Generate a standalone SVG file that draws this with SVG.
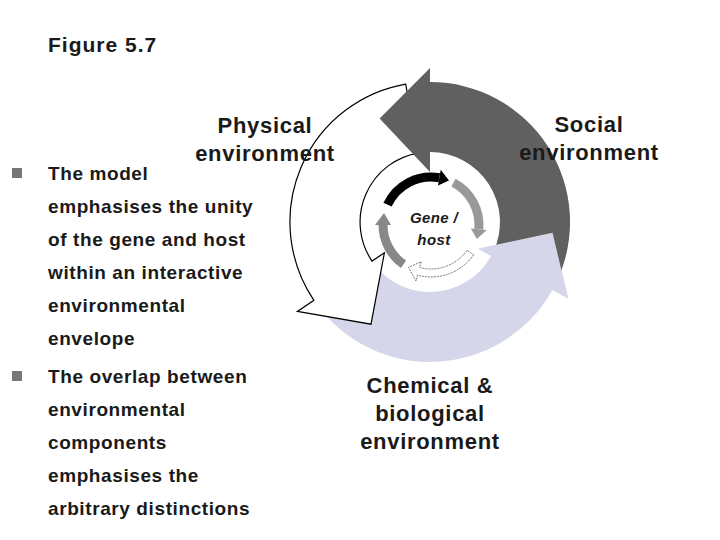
<svg xmlns="http://www.w3.org/2000/svg" width="720" height="540" viewBox="0 0 720 540">
<style>
text{font-family:"Liberation Sans",Arial,sans-serif;font-weight:bold;fill:#1a1a1a}
.lbl{font-size:22px;letter-spacing:0.7px;text-anchor:middle}
.bul{font-size:19px;letter-spacing:0.6px}
.g{font-size:15px;font-style:italic;text-anchor:middle;letter-spacing:0.4px}
</style>
<rect width="720" height="540" fill="#fff"/>
<text x="48" y="52" font-size="21" letter-spacing="1">Figure 5.7</text>
<g id="bullets">
<rect x="12" y="168" width="10" height="10" fill="#777"/>
<text class="bul" x="48" y="180">The model</text>
<text class="bul" x="48" y="213">emphasises the unity</text>
<text class="bul" x="48" y="246">of the gene and host</text>
<text class="bul" x="48" y="279">within an interactive</text>
<text class="bul" x="48" y="312">environmental</text>
<text class="bul" x="48" y="345">envelope</text>
<rect x="12" y="371" width="10" height="10" fill="#777"/>
<text class="bul" x="48" y="383">The overlap between</text>
<text class="bul" x="48" y="416">environmental</text>
<text class="bul" x="48" y="449">components</text>
<text class="bul" x="48" y="482">emphasises the</text>
<text class="bul" x="48" y="515">arbitrary distinctions</text>
</g>
<g id="connectors">
<path id="lavender" d="M308.8 292 A140 140 0 0 0 552.4 289.9 L568.2 298.6 L552.5 232.7 L478.1 248.7 L491.2 255.9 A70 70 0 0 1 369.4 257 Z" fill="#d6d6ea"/>
<path id="white" d="M405.7 84.1 A140 140 0 0 0 313.9 300.3 L297.4 311.4 L371 324.2 L384.4 252.8 L372 261.1 A70 70 0 0 1 417.8 153.1 Z" fill="#fff" stroke="#000" stroke-width="1.2"/>
<path id="dark" d="M556.9 281.2 A140 140 0 0 0 430 82 L430 68 L379.6 118.6 L430 172 L430 152 A70 70 0 0 1 493.4 251.6 Z" fill="#606060"/>
<path d="M552.4 289.9 L568.2 298.6 L552.5 232.7 L478.1 248.7 L491.2 255.9 Z" fill="#d6d6ea"/>
<path d="M387.5 204.7 A48 48 0 0 1 439.3 177.7" fill="none" stroke="#000" stroke-width="9"/>
<polygon points="449,180.5 438,185.6 440.7,169.8" fill="#000"/>
<path d="M453.5 182.6 A48 48 0 0 1 478.8 229.2" fill="none" stroke="#999" stroke-width="9"/>
<polygon points="476.9,239 470.8,228.5 486.8,229.9" fill="#999"/>
<path d="M473.6 254.8 A52 52 0 0 1 417.5 275.2 L416 281 L408.5 267.4 L421.2 261.7 L419.6 267.5 A44 44 0 0 0 467 250.3 Z" fill="#fff" stroke="#555" stroke-width="0.8" stroke-dasharray="2 1"/>
<path d="M403.5 264.3 A48 48 0 0 1 383 225" fill="none" stroke="#888" stroke-width="9"/>
<polygon points="384,213 391,225 375,225" fill="#888"/>
</g>
<g id="gene"><text class="g" x="434" y="223">Gene /</text><text class="g" x="434" y="245">host</text></g>
<g id="physical"><text class="lbl" x="265" y="133">Physical</text><text class="lbl" x="265" y="161">environment</text></g>
<g id="social"><text class="lbl" x="589" y="132">Social</text><text class="lbl" x="589" y="160">environment</text></g>
<g id="chemical"><text class="lbl" x="430" y="393">Chemical &amp;</text><text class="lbl" x="430" y="421">biological</text><text class="lbl" x="430" y="449">environment</text></g>
</svg>
